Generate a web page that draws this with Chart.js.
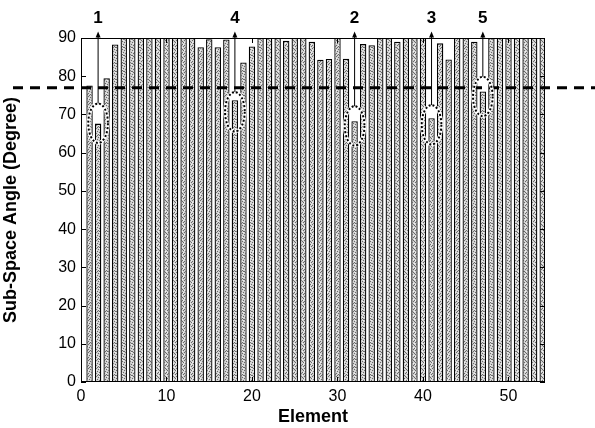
<!DOCTYPE html>
<html>
<head>
<meta charset="utf-8">
<script src="https://cdn.jsdelivr.net/npm/chart.js@4.4.1/dist/chart.umd.min.js"></script>
<style>
  html, body { margin: 0; padding: 0; background: #fff; }
  #wrap { width: 595px; height: 428px; }
</style>
</head>
<body>
<div id="wrap"><canvas id="angleChart" width="595" height="428"></canvas></div>
<script>
// 데이터
const elements = [1, 2, 3, 4, 5, 6, 7, 8, 9, 10,
                  11, 12, 13, 14, 15, 16, 17, 18, 19, 20,
                  21, 22, 23, 24, 25, 26, 27, 28, 29, 30,
                  31, 32, 33, 34, 35, 36, 37, 38, 39, 40,
                  41, 42, 43, 44, 45, 46, 47, 48, 49, 50,
                  51, 52, 53, 54];
const angles = [77.6, 67.6, 79.5, 88.3, 90, 90, 90, 90, 90, 90,
                90, 90, 90, 87.6, 89.7, 87.6, 89.6, 73.7, 83.6, 87.8,
                90, 90, 90, 89.3, 90, 90, 89, 84.3, 84.5, 90,
                84.6, 68.2, 88.4, 88.1, 90, 90, 89, 90, 90, 90,
                69, 88.6, 84.4, 90, 90, 89, 76, 90, 90, 90,
                90, 90, 90, 90];
const xTicks = [0, 10, 20, 30, 40, 50];
const yTicks = [0, 10, 20, 30, 40, 50, 60, 70, 80, 90];
const thresholdAngle = 77;

// 표시된 요소 (번호, 타원 중심 각도)
const markedElements = [2, 18, 32, 41, 47];
const markedLabels = ['1', '4', '2', '3', '5'];
const markedMid = [67.7, 70.7, 67.0, 67.3, 74.7];

const FONT = '"Liberation Sans", Arial, sans-serif';

// 점묘 느낌의 회색 패턴 (8x8 타일)
function makeStipple(ctx) {
    const c = document.createElement('canvas');
    c.width = 8; c.height = 8;
    const g = c.getContext('2d');
    g.fillStyle = '#d4d4d4';
    g.fillRect(0, 0, 8, 8);
    g.fillStyle = '#6a6a6a';
    const dots = [[0, 0], [5, 0], [2, 1], [7, 2], [4, 2], [1, 3], [6, 4], [3, 4],
                  [0, 5], [5, 5], [2, 6], [7, 6], [4, 7], [1, 7], [6, 1], [3, 7]];
    dots.forEach(d => g.fillRect(d[0], d[1], 1, 1));
    g.fillStyle = '#f2f2f2';
    [[3, 0], [0, 2], [5, 3], [2, 5], [7, 4], [6, 7]].forEach(d => g.fillRect(d[0], d[1], 1, 1));
    return ctx.createPattern(c, 'repeat');
}

// 축 테두리, 안쪽 눈금, 점선, 타원, 화살표, 제목
const matlabDecor = {
    id: 'matlabDecor',
    afterDatasetsDraw(chart) {
        const ctx = chart.ctx;
        const a = chart.chartArea;
        const xs = chart.scales.x, ys = chart.scales.y;
        ctx.save();

        // 박스
        ctx.strokeStyle = '#000';
        ctx.lineWidth = 1;
        ctx.strokeRect(a.left + 0.5, a.top + 0.5, a.right - a.left - 1, a.bottom - a.top - 1);

        // 안쪽 눈금
        ctx.beginPath();
        yTicks.forEach(v => {
            const y = Math.round(ys.getPixelForValue(v)) + 0.5;
            ctx.moveTo(a.left, y); ctx.lineTo(a.left + 5, y);
            ctx.moveTo(a.right, y); ctx.lineTo(a.right - 5, y);
        });
        xTicks.forEach(v => {
            const x = Math.round(xs.getPixelForValue(v)) + 0.5;
            ctx.moveTo(x, a.bottom); ctx.lineTo(x, a.bottom - 5);
            ctx.moveTo(x, a.top); ctx.lineTo(x, a.top + 5);
        });
        ctx.stroke();

        // 기준 점선
        const ty = ys.getPixelForValue(thresholdAngle);
        ctx.beginPath();
        ctx.setLineDash([10, 7]);
        ctx.lineWidth = 3;
        ctx.moveTo(13, ty);
        ctx.lineTo(chart.width, ty);
        ctx.stroke();
        ctx.setLineDash([]);

        // 타원 + 화살표 + 번호
        markedElements.forEach((el, i) => {
            const cx = xs.getPixelForValue(el);
            const cy = ys.getPixelForValue(markedMid[i]);
            const rx = xs.getPixelForValue(el + 1.15) - cx;
            const ry = ys.getPixelForValue(markedMid[i] - 5.15) - cy;

            ctx.beginPath();
            ctx.ellipse(cx, cy, rx, ry, 0, 0, Math.PI * 2);
            ctx.strokeStyle = '#fff';
            ctx.lineWidth = 3.5;
            ctx.stroke();
            ctx.setLineDash([2, 2]);
            ctx.strokeStyle = '#000';
            ctx.lineWidth = 2;
            ctx.stroke();
            ctx.setLineDash([]);

            ctx.beginPath();
            ctx.lineWidth = 1;
            ctx.moveTo(cx, cy - ry);
            ctx.lineTo(cx, 36);
            ctx.stroke();
            ctx.beginPath();
            ctx.moveTo(cx, 31.5);
            ctx.lineTo(cx - 2.5, 37.5);
            ctx.lineTo(cx + 2.5, 37.5);
            ctx.closePath();
            ctx.fillStyle = '#000';
            ctx.fill();

            ctx.font = 'bold 17px ' + FONT;
            ctx.textAlign = 'center';
            ctx.textBaseline = 'middle';
            ctx.fillText(markedLabels[i], cx, 18);
        });

        // 축 제목
        ctx.fillStyle = '#000';
        ctx.font = 'bold 18px ' + FONT;
        ctx.textAlign = 'center';
        ctx.textBaseline = 'middle';
        ctx.fillText('Element', (a.left + a.right) / 2, 417);
        ctx.translate(11, (a.top + a.bottom) / 2);
        ctx.rotate(-Math.PI / 2);
        ctx.fillText('Sub-Space Angle (Degree)', 0, 0);

        ctx.restore();
    }
};

const ctx = document.getElementById('angleChart').getContext('2d');
const myChart = new Chart(ctx, {
    type: 'bar',
    data: {
        datasets: [{
            data: elements.map((e, i) => ({ x: e, y: angles[i] })),
            backgroundColor: makeStipple(ctx),
            borderColor: '#000',
            borderWidth: 1.3,
            barPercentage: 0.75,
            categoryPercentage: 1
        }]
    },
    options: {
        responsive: false,
        devicePixelRatio: 1,
        animation: false,
        layout: { padding: { top: 38, right: 50, left: 0, bottom: 0 } },
        plugins: { legend: { display: false }, tooltip: { enabled: false } },
        scales: {
            x: {
                type: 'linear',
                min: 0,
                max: 54.27,
                offset: false,
                grid: { display: false, drawTicks: false, offset: false },
                border: { display: false },
                afterBuildTicks: s => { s.ticks = xTicks.map(v => ({ value: v })); },
                afterFit: s => { s.height = 46; },
                ticks: { color: '#000', padding: 5, maxRotation: 0, font: { family: FONT, size: 16 } }
            },
            y: {
                min: 0,
                max: 90,
                grid: { display: false, drawTicks: false },
                border: { display: false },
                afterBuildTicks: s => { s.ticks = yTicks.map(v => ({ value: v })); },
                afterFit: s => { s.width = 81; },
                ticks: { color: '#000', padding: 5, font: { family: FONT, size: 16 } }
            }
        }
    },
    plugins: [matlabDecor]
});
</script>
</body>
</html>
